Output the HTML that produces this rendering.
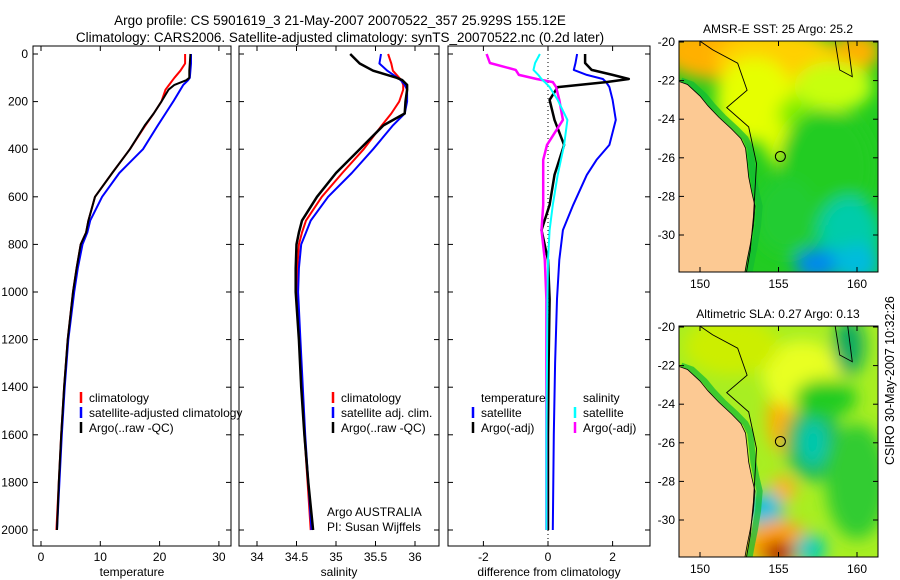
<!DOCTYPE html>
<html><head><meta charset="utf-8">
<style>
html,body{margin:0;padding:0;background:#fff;}
svg{display:block;font-family:"Liberation Sans",sans-serif;}
</style></head>
<body>
<svg id="fig" width="900" height="580" viewBox="0 0 900 580">
<defs>
<filter id="blur1" x="-20%" y="-20%" width="140%" height="140%"><feGaussianBlur stdDeviation="8"/></filter>
<clipPath id="clipMap1"><rect x="679" y="41" width="199" height="231"/></clipPath>
<clipPath id="clipMap2"><rect x="679" y="326" width="199" height="231"/></clipPath>
</defs>
<text x="340" y="25" font-size="13.5" text-anchor="middle">Argo profile: CS 5901619_3 21-May-2007 20070522_357 25.929S 155.12E</text>
<text x="340" y="42" font-size="13.5" text-anchor="middle">Climatology: CARS2006. Satellite-adjusted climatology: synTS_20070522.nc (0.2d later)</text>
<g id="plots"></g>
<g id="maps"></g>
<text transform="translate(894,465) rotate(-90)" font-size="12.5">CSIRO 30-May-2007 10:32:26</text>
</svg>
<script>
// ---- profile data (depth in m) ----
const depths = [0,40,70,100,110,130,150,200,250,300,400,500,600,700,750,800,900,1000,1200,1400,1600,1800,2000];
const tempClim = [24.3,24.3,23.5,22.5,22.2,21.6,21,20.3,19,17.6,15,12,9.1,8,7.6,6.7,6,5.4,4.5,3.9,3.4,3,2.6];
const tempSat  = [25.3,25.3,25.2,25.1,24.8,24,23.5,22.3,21,19.7,17.2,13.2,10.3,8.3,7.8,7,6.2,5.6,4.6,4,3.5,3.1,2.7];
const tempArgo = [25.2,25.1,25,25,24.5,22.5,21.5,20.3,19,17.5,15,12,9.1,8,7.6,6.7,6,5.4,4.5,3.9,3.4,3,2.7];
const salClim = [35.66,35.7,35.72,35.8,35.83,35.85,35.85,35.8,35.7,35.58,35.35,35.08,34.82,34.62,34.57,34.53,34.51,34.51,34.54,34.57,34.6,34.64,34.68];
const salSat  = [35.57,35.55,35.65,35.78,35.82,35.87,35.9,35.9,35.87,35.72,35.47,35.2,34.9,34.68,34.62,34.56,34.53,34.52,34.55,34.58,34.61,34.65,34.69];
const salArgo = [35.18,35.3,35.47,35.77,35.84,35.9,35.9,35.88,35.87,35.6,35.3,35.0,34.76,34.57,34.53,34.5,34.49,34.49,34.53,34.56,34.6,34.65,34.71];
const diffDepths = [0,38,67,88,105,118,139,193,277,382,445,508,634,740,865,1030,1300,1600,2000];
const dTempArgo = [1.15,1.15,1.35,2.0,2.5,1.8,0.3,0.05,0.2,0.5,0.35,0.2,0.05,-0.2,0,0.05,0.02,0,0];
const dTempSat  = [0.9,0.85,0.8,1.2,1.7,1.8,1.9,2.0,2.1,1.9,1.5,1.2,0.78,0.46,0.35,0.28,0.22,0.18,0.15];
const dSalArgo  = [-1.9,-1.8,-1.0,-0.9,-0.35,0.15,0.25,0.35,0.46,-0.03,-0.15,-0.15,-0.15,-0.2,-0.1,-0.05,-0.05,-0.05,-0.05];
const dSalSat   = [-0.25,-0.4,-0.45,-0.3,-0.2,-0.1,0.05,0.3,0.6,0.5,0.4,0.3,0.15,0.05,0,-0.02,-0.03,-0.05,-0.05];
const depthTicks = [0,200,400,600,800,1000,1200,1400,1600,1800,2000];
const tempTicks = [0,10,20,30];
const salTicks = [34,34.5,35,35.5,36];
const salTickLabels = ["34","34.5","35","35.5","36"];
const diffTicks = [-2,0,2];
const latTicks = [-20,-22,-24,-26,-28,-30];
const lonTicks = [150,155,160];

const NS = "http://www.w3.org/2000/svg";
function mk(tag, attrs, parent, text){
  const e = document.createElementNS(NS, tag);
  for (const k in attrs) e.setAttribute(k, attrs[k]);
  if (text !== undefined) e.textContent = text;
  parent.appendChild(e);
  return e;
}
const yDepth = d => 54 + d*0.238;
const plots = document.getElementById('plots');

function panel(name, x0, x1, xs, ticks, labels, xlabel){
  const g = mk('g', {}, plots);
  
  
  const fr = mk('rect', {x:x0, y:46, width:x1-x0, height:500, fill:'none', stroke:'#000', 'stroke-width':1}, g);
  
  
  ticks.forEach((t,i)=>{
    const x = xs(t);
    mk('line',{x1:x,y1:46,x2:x,y2:51,stroke:'#000'},g);
    mk('line',{x1:x,y1:546,x2:x,y2:541,stroke:'#000'},g);
    const tl = mk('text',{x:x,y:561,'font-size':12,'text-anchor':'middle'},g,labels[i]);
    
    
  });
  depthTicks.forEach(d=>{
    const y = yDepth(d);
    mk('line',{x1:x0,y1:y,x2:x0+5,y2:y,stroke:'#000'},g);
    mk('line',{x1:x1,y1:y,x2:x1-5,y2:y,stroke:'#000'},g);
  });
  const xl = mk('text',{x:(x0+x1)/2,y:576,'font-size':12,'text-anchor':'middle'},g,xlabel);
  
  
  return g;
}
function line(g, xs, vals, dps, color, w, name){
  const pts = vals.map((v,i)=> xs(v).toFixed(1)+','+yDepth(dps[i]).toFixed(1)).join(' ');
  const p = mk('polyline',{points:pts,fill:'none',stroke:color,'stroke-width':w,'stroke-linejoin':'round'},g);
  
  
}
function legend(g, x, y, items, tx){
  items.forEach((it,i)=>{
    const yy = y + i*15;
    if (it.color) mk('line',{x1:x,y1:yy-10,x2:x,y2:yy+1,stroke:it.color,'stroke-width':2.5},g);
    const t = mk('text',{x:(it.tx!==undefined?it.tx:x+8),y:yy,'font-size':12},g,it.label);
    
    
  });
}

depthTicks.forEach(d=>{
  const t = mk('text',{x:28,y:yDepth(d)+4,'font-size':12,'text-anchor':'end'},plots,String(d));
  
  
});

const xT = v => 41 + v*5.93;
const gT = panel('temperature', 33, 231, xT, tempTicks, tempTicks.map(String), 'temperature');
line(gT, xT, tempClim, depths, '#f00', 2, 'temperature-climatology-line');
line(gT, xT, tempSat, depths, '#00f', 2, 'temperature-satellite-line');
line(gT, xT, tempArgo, depths, '#000', 2, 'temperature-argo-line');
legend(gT, 81, 402, [{color:'#f00',label:'climatology'},{color:'#00f',label:'satellite-adjusted climatology'},{color:'#000',label:'Argo(..raw -QC)'}]);

const xS = v => 257 + (v-34)*79;
const gS = panel('salinity', 239, 439, xS, salTicks, salTickLabels, 'salinity');
line(gS, xS, salClim, depths, '#f00', 2, 'salinity-climatology-line');
line(gS, xS, salSat, depths, '#00f', 2, 'salinity-satellite-line');
line(gS, xS, salArgo, depths, '#000', 2.5, 'salinity-argo-line');
legend(gS, 333, 402, [{color:'#f00',label:'climatology'},{color:'#00f',label:'satellite adj. clim.'},{color:'#000',label:'Argo(..raw -QC)'}]);
const a1 = mk('text',{x:327,y:516,'font-size':12},gS,'Argo AUSTRALIA');
 
const a2 = mk('text',{x:327,y:531,'font-size':12},gS,'PI: Susan Wijffels');
 

const xD = v => 548 + v*32.3;
const gD = panel('difference', 448, 650, xD, diffTicks, diffTicks.map(String), 'difference from climatology');
const zl = mk('line',{x1:xD(0),y1:46,x2:xD(0),y2:546,stroke:'#000','stroke-dasharray':'1,3'},gD);
 
line(gD, xD, dTempSat, diffDepths, '#00f', 2, 'temperature-diff-satellite-line');
line(gD, xD, dTempArgo, diffDepths, '#000', 2.5, 'temperature-diff-argo-line');
line(gD, xD, dSalArgo, diffDepths, '#f0f', 2.5, 'salinity-diff-argo-line');
line(gD, xD, dSalSat, diffDepths, '#0ff', 2, 'salinity-diff-satellite-line');
legend(gD, 473, 402, [{label:'temperature',tx:481},{color:'#00f',label:'satellite'},{color:'#000',label:'Argo(-adj)'}]);
legend(gD, 575, 402, [{label:'salinity',tx:583},{color:'#0ff',label:'satellite'},{color:'#f0f',label:'Argo(-adj)'}]);

// ---- maps ----
const coast = [[148.5,-22.0],[149.2,-22.2],[150,-22.8],[150.5,-23.3],[151.2,-23.9],[152,-24.5],[152.6,-25],[152.9,-25.5],[153.0,-26.2],[153.1,-27],[153.3,-27.8],[153.5,-28.5],[153.4,-29.5],[153.2,-30.5],[153.0,-31.3],[152.8,-32.2]];
const isobath = [[149.9,-19.9],[150.8,-20.4],[152.4,-21.1],[153,-22.5],[151.7,-23.4],[153.1,-24.4],[153.6,-26.3],[153.4,-29.1],[153.2,-30.8],[152.9,-32.2]];
const contourNE = [[158.6,-19.9],[158.9,-21.45],[159.7,-21.8],[159.4,-19.9]];
const argoLon = 155.12, argoLat = -25.93;
const sstBlobs = [
 [151.5,-20.5,4,1.5,'#ffb000'],[155,-21,4,1.7,'#ffd000'],[160,-20.5,1.5,1,'#ffb000'],
 [153.5,-23,2.5,2.2,'#e6ff00'],[155.5,-24.8,1.5,1.8,'#e0ff00'],[158.5,-22.3,2.5,1.3,'#c8ff10'],
 [156,-23.7,1,0.8,'#80ee00'],[158,-26.5,3,3,'#22cc22'],[155.5,-29,2,2,'#22cc30'],
 [159.5,-30,2,2,'#00ccaa'],[157.5,-31.5,1.5,0.8,'#0088ee'],[160,-31.5,1.5,1,'#00bbdd']];
const slaBlobs = [
 [155.5,-24.8,1.2,1.8,'#ffb000'],[157.2,-26,1.8,2,'#22bb55'],[157.2,-26,0.9,1.2,'#00c8b0'],
 [155.3,-28.4,0.8,0.7,'#ffb020'],[154.2,-29.6,1.1,1.1,'#00c0e0'],
 [155,-31.2,2,1.2,'#ffa000'],[155,-31.7,1,0.6,'#aa1000'],[157,-31.5,1,0.8,'#00ccbb'],[156.5,-22.5,2.5,1.8,'#e8ff20'],
 [158,-23.7,2,1,'#22cc22'],[159.5,-21,1,1.5,'#10aa60'],[160,-28,2,3,'#33cc33'],[152,-21,3,1.5,'#ccee00']];

function drawMap(name, y0, title, bg, blobs){
  const g = mk('g', {}, document.getElementById('maps'));
  
  
  const px = lon => 700 + (lon-150)*15.7;
  const py = lat => y0 + 1 + (-20-lat)*19.3;
  const tt = mk('text',{x:778,y:y0-8,'font-size':12,'text-anchor':'middle'},g,title);
  
  
  const clip = mk('g',{'clip-path':'url(#clip'+(y0<100?'Map1':'Map2')+')'},g);
  mk('rect',{x:679,y:y0,width:199,height:231,fill:bg},clip);
  const bl = mk('g',{filter:'url(#blur1)'},clip);
  blobs.forEach(b=>{
    const e = mk('ellipse',{cx:px(b[0]),cy:py(b[1]),rx:b[2]*15.7,ry:b[3]*19.3,fill:b[4]},bl);
    
    
  });
  const strip = coast.map(c=>px(c[0]+0.3)+','+py(c[1])).join(' ');
  mk('polyline',{points:strip,fill:'none',stroke:'#11bb33','stroke-width':6,opacity:0.7},clip);
  const landPts = coast.map(c=>px(c[0])+','+py(c[1])).concat([px(147)+','+py(-33), px(147)+','+py(-22)]).join(' ');
  const land = mk('polygon',{points:landPts,fill:'#fcc993',stroke:'#000','stroke-width':0.8},clip);
  
  
  mk('polyline',{points:isobath.map(c=>px(c[0])+','+py(c[1])).join(' '),fill:'none',stroke:'#000','stroke-width':0.9},clip);
  mk('polyline',{points:contourNE.map(c=>px(c[0])+','+py(c[1])).join(' '),fill:'none',stroke:'#000','stroke-width':0.9},clip);
  const fl = mk('circle',{cx:px(argoLon),cy:py(argoLat),r:5,fill:'none',stroke:'#000','stroke-width':1},g);
  
  
  mk('rect',{x:679,y:y0,width:199,height:231,fill:'none',stroke:'#000'},g);
  latTicks.forEach(l=>{
    const y = py(l);
    mk('line',{x1:679,y1:y,x2:684,y2:y,stroke:'#000'},g);
    mk('line',{x1:878,y1:y,x2:873,y2:y,stroke:'#000'},g);
    const t = mk('text',{x:675,y:y+4,'font-size':12,'text-anchor':'end'},g,String(l));
    
    
  });
  lonTicks.forEach(l=>{
    const x = px(l);
    mk('line',{x1:x,y1:y0,x2:x,y2:y0+5,stroke:'#000'},g);
    mk('line',{x1:x,y1:y0+231,x2:x,y2:y0+226,stroke:'#000'},g);
    const t = mk('text',{x:x,y:y0+247,'font-size':12,'text-anchor':'middle'},g,String(l));
    
    
  });
}
drawMap('sst-map', 41, 'AMSR-E SST: 25 Argo: 25.2', '#22cc22', sstBlobs);
drawMap('sla-map', 326, 'Altimetric SLA: 0.27 Argo: 0.13', '#a8ee22', slaBlobs);
</script>
</body></html>
